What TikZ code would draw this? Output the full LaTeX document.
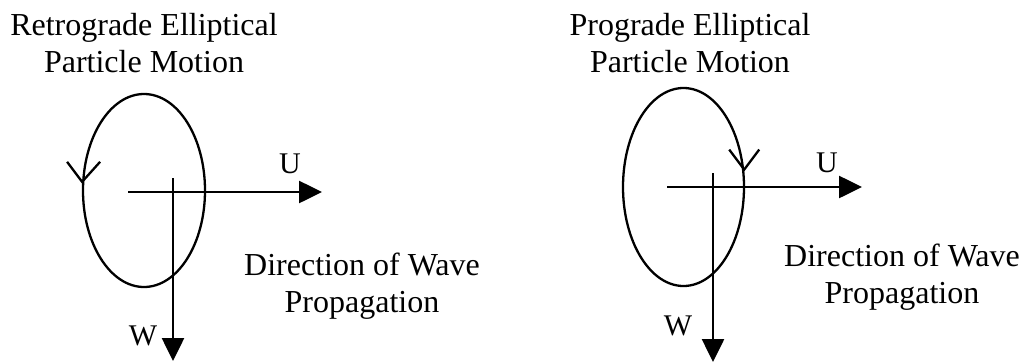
\documentclass[tikz,border=0pt]{standalone}
\usepackage{fontspec}
\setmainfont{Liberation Serif}
\usepackage{tikz}
\usetikzlibrary{shapes.geometric, arrows.meta, positioning}
\tikzset{
  orbit/.style={ellipse, draw, line width=2.3pt, inner sep=0pt},
  axis/.style={-{Triangle[length=23pt,width=22pt]}, line width=2.6pt},
  barb/.style={line width=2.3pt, line join=miter},
  heading/.style={align=center, font=\fontsize{32}{37}\selectfont, inner sep=0pt},
  comp/.style={font=\fontsize{30}{32}\selectfont, inner sep=0pt},
}

\begin{document}
\begin{tikzpicture}[x=1pt, y=-1pt]
  \useasboundingbox (0,0) rectangle (1024,362);

  % Retrograde (left)
  \node[heading] (titleL) at (144,43.5) {Retrograde Elliptical\\Particle Motion};
  \node[orbit, minimum width=122pt, minimum height=193pt] (ellL) at (144,190.5) {};
  \coordinate (uL0) at (128,192);
  \coordinate (uL1) at (322,192);
  \coordinate (wL0) at (173,178);
  \coordinate (wL1) at (173,361);
  \node[comp] (labUL) at (290,164) {U};
  \node[comp] (labWL) at (143,336) {W};
  \node[heading] (dirL) at (362,286) {Direction of Wave\\Propagation};
  \draw[barb] ([shift={(-15,-20)}]ellL.172) -- (ellL.172) -- ([shift={(18,-20)}]ellL.172);

  % Prograde (right)
  \node[heading] (titleR) at (690,43.5) {Prograde Elliptical\\Particle Motion};
  \node[orbit, minimum width=121pt, minimum height=198pt] (ellR) at (683.5,187) {};
  \coordinate (uR0) at (667,187);
  \coordinate (uR1) at (862,187);
  \coordinate (wR0) at (713,173);
  \coordinate (wR1) at (713,362);
  \node[comp] (labUR) at (827,163) {U};
  \node[comp] (labWR) at (678,326) {W};
  \node[heading] (dirR) at (902,277) {Direction of Wave\\Propagation};
  \draw[barb] ([shift={(-15,-20)}]ellR.16) -- (ellR.16) -- ([shift={(15,-20)}]ellR.16);

  \foreach \f/\t in {uL0/uL1,wL0/wL1,uR0/uR1,wR0/wR1}
    \draw[axis] (\f)--(\t);
\end{tikzpicture}
\end{document}
